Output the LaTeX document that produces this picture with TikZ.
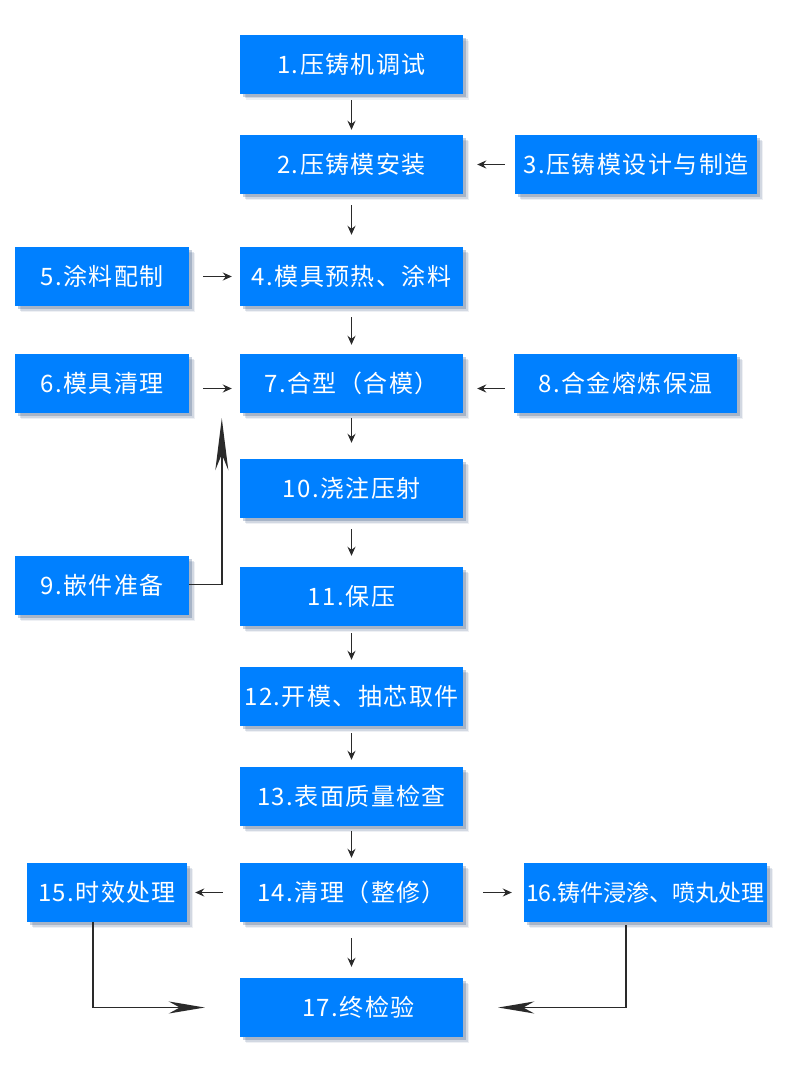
\documentclass[tikz,border=0pt]{standalone}
\usepackage{fontspec}
\setmainfont{Noto Sans CJK SC}
\newfontfamily\spacedfont[LetterSpace=6]{Noto Sans CJK SC}
\usetikzlibrary{arrows.meta,shadows,calc}
\definecolor{boxblue}{HTML}{0080FF}
\definecolor{linegray}{HTML}{2A2A2A}
\definecolor{shadowc}{HTML}{2A4A7A}
\tikzset{
 box/.style={rectangle, fill=boxblue, text=white, font=\spacedfont\fontsize{24}{28}\selectfont,
   inner sep=0pt, minimum height=59pt, minimum width=223pt,
   general shadow={fill=shadowc, opacity=.08, shadow xshift=6pt, shadow yshift=-6pt},
   general shadow={fill=shadowc, opacity=.14, shadow xshift=4.5pt, shadow yshift=-4.5pt},
   general shadow={fill=shadowc, opacity=.25, shadow xshift=3pt, shadow yshift=-3pt}},
 arr/.style={draw=linegray, line width=1.6pt, -{Stealth[length=9pt,width=8pt,inset=3pt]}},
 bigarr/.style={draw=linegray, line width=1.6pt, -{Stealth[length=36pt,width=12pt,inset=11pt]}},
}
\begin{document}
\begin{tikzpicture}[x=1pt,y=-1pt]
\useasboundingbox[fill=white] (0,0) rectangle (790,1070);
\node[box] (n1) at (351.5,64.5) {1.压铸机调试};
\node[box] (n2) at (351.5,164.5) {2.压铸模安装};
\node[box, minimum width=242pt] (n3) at (636,164.5) {3.压铸模设计与制造};
\node[box, minimum width=174pt] (n5) at (102,276.5) {5.涂料配制};
\node[box] (n4) at (351.5,276.5) {4.模具预热、涂料};
\node[box, minimum width=174pt] (n6) at (102,383.5) {6.模具清理};
\node[box] (n7) at (351.5,383.5) {7.合型（合模）};
\node[box] (n8) at (625.5,383.5) {8.合金熔炼保温};
\node[box] (n10) at (351.5,488.5) {10.浇注压射};
\node[box, minimum width=174pt] (n9) at (102,585.5) {9.嵌件准备};
\node[box] (n11) at (351.5,596.5) {11.保压};
\node[box] (n12) at (351.5,696.5) {12.开模、抽芯取件};
\node[box] (n13) at (351.5,796.5) {13.表面质量检查};
\node[box, minimum width=160pt] (n15) at (107,892.5) {15.时效处理};
\node[box] (n14) at (351.5,892.5) {14.清理（整修）};
\node[box, minimum width=243pt, font=\fontsize{23}{27}\selectfont] (n16) at (645.5,892.5) {16.铸件浸渗、喷丸处理};
\node[box] (n17) at (351.5,1007.5) {\hspace*{14pt}17.终检验};
% vertical arrows
\draw[arr, shorten <=6pt, shorten >=5pt] (n1) -- (n2);
\draw[arr, shorten <=11pt, shorten >=12pt] (n2) -- (n4);
\draw[arr, shorten <=11pt, shorten >=9pt] (n4) -- (n7);
\draw[arr, shorten <=5pt, shorten >=16pt] (n7) -- (n10);
\draw[arr, shorten <=11pt, shorten >=11pt] (n10) -- (n11);
\draw[arr, shorten <=7pt, shorten >=7pt] (n11) -- (n12);
\draw[arr, shorten <=7pt, shorten >=7pt] (n12) -- (n13);
\draw[arr, shorten <=5pt, shorten >=5pt] (n13) -- (n14);
\draw[arr, shorten <=16pt, shorten >=11pt] (n14) -- (n17);
% horizontal arrows
\draw[arr, shorten <=10pt, shorten >=14pt] (n3) -- (n2);
\draw[arr, shorten <=14pt, shorten >=8pt] (n5) -- (n4);
\draw[arr, shorten <=14pt, shorten >=8pt] ([yshift=-5pt]n6.east) -- ([yshift=-5pt]n7.west);
\draw[arr, shorten <=9pt, shorten >=14pt] ([yshift=-5pt]n8.west) -- ([yshift=-5pt]n7.east);
\draw[arr, shorten <=17pt, shorten >=8pt] (n14) -- (n15);
\draw[arr, shorten <=20pt, shorten >=12pt] (n14) -- (n16);
% elbow arrows
\draw[bigarr, -{Stealth[length=52pt,width=13pt,inset=16pt]}] ([yshift=1pt]n9.east) -| ([xshift=-18pt,yshift=-5pt]n7.south west);
\draw[bigarr] ([xshift=-14pt]n15.south) |- ([xshift=-35pt]n17.west);
\draw[bigarr] ([xshift=-19.5pt,yshift=-3pt]n16.south) |- ([xshift=35pt]n17.east);
\end{tikzpicture}
\end{document}
